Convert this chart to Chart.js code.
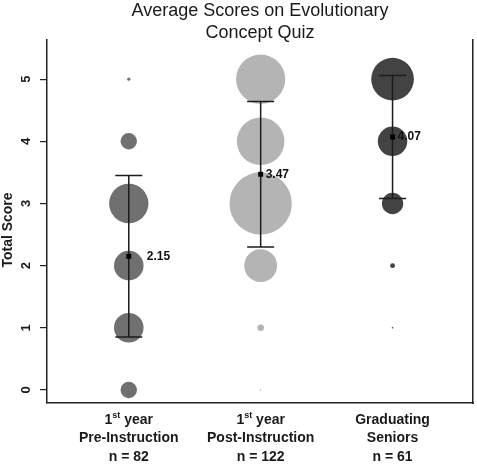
<!DOCTYPE html>
<html>
<head>
<meta charset="utf-8">
<script src="https://cdn.jsdelivr.net/npm/chart.js@4.4.0/dist/chart.umd.min.js"></script>
<style>
  html, body { margin: 0; padding: 0; background: #fff; }
  #wrap { width: 477px; height: 468px; }
</style>
</head>
<body>
<div id="wrap"><canvas id="quizChart"></canvas></div>
<script>
// data
const scores = [0, 1, 2, 3, 4, 5];
const preCounts = [10, 18, 18, 24, 10, 2];      // 1st year pre-instruction, n = 82
const postCounts = [1, 4, 20, 38, 29, 30];      // 1st year post-instruction, n = 122
const seniorCounts = [0, 1, 3, 13, 18, 26];     // graduating seniors, n = 61
const means = [2.15, 3.47, 4.07];
const sds = [1.30, 1.17, 0.99];
const yTicks = [0, 1, 2, 3, 4, 5];
const groupTop = ['1st year', '1st year', 'Graduating'];
const groupMid = ['Pre-Instruction', 'Post-Instruction', 'Seniors'];
const groupN = ['n = 82', 'n = 122', 'n = 61'];

const FONT = '"Liberation Sans", Arial, Helvetica, sans-serif';
const R_PER_STUDENT = 0.82; // bubble radius grows with the count

// big bubbles would otherwise push the plot area in from the right edge
if (Chart.BubbleController) {
  Chart.BubbleController.prototype.getMaxOverflow = function () { return false; };
}

function bubbles(counts, groupIdx) {
  return scores
    .map((s, i) => ({ x: groupIdx + 1, y: s, r: counts[i] * R_PER_STUDENT }))
    .filter(p => p.r > 0);
}

// error bars, mean markers and mean labels
const meanPlugin = {
  id: 'meanPlugin',
  afterDatasetsDraw(chart) {
    const { ctx, scales: { x, y } } = chart;
    const labelOffsets = [18, 5, 5];
    ctx.save();
    means.forEach((m, i) => {
      const px = x.getPixelForValue(i + 1);
      const top = y.getPixelForValue(m + sds[i]);
      const bot = y.getPixelForValue(m - sds[i]);
      const py = y.getPixelForValue(m);
      ctx.strokeStyle = '#1c1c1c';
      ctx.lineWidth = 1.5;
      ctx.beginPath();
      ctx.moveTo(px, top); ctx.lineTo(px, bot);
      ctx.moveTo(px - 13.5, top); ctx.lineTo(px + 13.5, top);
      ctx.moveTo(px - 13.5, bot); ctx.lineTo(px + 13.5, bot);
      ctx.stroke();
      ctx.fillStyle = '#000';
      ctx.fillRect(px - 2.5, py - 2.5, 5, 5);
      ctx.font = 'bold 12px ' + FONT;
      ctx.textAlign = 'left';
      ctx.textBaseline = 'middle';
      ctx.fillStyle = '#111';
      ctx.fillText(means[i].toFixed(2), px + labelOffsets[i], py);
    });
    ctx.restore();
  },
  afterDraw(chart) {
    const { ctx, chartArea, scales: { x, y } } = chart;
    ctx.save();
    ctx.fillStyle = '#1a1a1a';
    // title
    const cx = (chartArea.left + chartArea.right) / 2;
    ctx.font = '18px ' + FONT;
    ctx.textAlign = 'center';
    ctx.textBaseline = 'middle';
    ctx.fillText('Average Scores on Evolutionary', cx, 11);
    ctx.fillText('Concept Quiz', cx, 33);

    // y axis title and tick labels, rotated
    ctx.font = 'bold 14px ' + FONT;
    ctx.save();
    ctx.translate(8, 230);
    ctx.rotate(-Math.PI / 2);
    ctx.fillText('Total Score', 0, 0);
    ctx.restore();
    ctx.font = 'bold 13px ' + FONT;
    yTicks.forEach(v => {
      ctx.save();
      ctx.translate(26, y.getPixelForValue(v));
      ctx.rotate(-Math.PI / 2);
      ctx.fillText(String(v), 0, 0);
      ctx.restore();
    });

    // category labels under the x axis
    ctx.font = 'bold 14px ' + FONT;
    groupTop.forEach((t, i) => {
      const px = x.getPixelForValue(i + 1);
      const m = t.match(/^(\d+)(st|nd|rd|th)(.*)$/);
      if (m) {
        ctx.font = 'bold 14px ' + FONT;
        const wBase = ctx.measureText(m[1]).width;
        const wRest = ctx.measureText(m[3]).width;
        ctx.font = 'bold 9px ' + FONT;
        const wSup = ctx.measureText(m[2]).width;
        let left = px - (wBase + wSup + wRest) / 2;
        ctx.textAlign = 'left';
        ctx.font = 'bold 14px ' + FONT;
        ctx.fillText(m[1], left, 420);
        ctx.font = 'bold 9px ' + FONT;
        ctx.fillText(m[2], left + wBase, 416);
        ctx.font = 'bold 14px ' + FONT;
        ctx.fillText(m[3], left + wBase + wSup, 420);
      } else {
        ctx.textAlign = 'center';
        ctx.fillText(t, px, 420);
      }
      ctx.textAlign = 'center';
      ctx.fillText(groupMid[i], px, 438);
      ctx.fillText(groupN[i], px, 457);
    });
    ctx.restore();
  }
};

new Chart(document.getElementById('quizChart'), {
  type: 'bubble',
  data: {
    datasets: [
      { label: 'Pre', data: bubbles(preCounts, 0), backgroundColor: '#707070', borderWidth: 0 },
      { label: 'Post', data: bubbles(postCounts, 1), backgroundColor: '#b4b4b4', borderWidth: 0 },
      { label: 'Seniors', data: bubbles(seniorCounts, 2), backgroundColor: '#434343', borderWidth: 0 }
    ]
  },
  options: {
    responsive: true,
    maintainAspectRatio: false,
    animation: false,
    layout: { padding: { top: 40, left: 0, right: 0, bottom: 0 } },
    plugins: {
      legend: { display: false },
      tooltip: { enabled: false },
      title: { display: false }
    },
    scales: {
      x: {
        type: 'linear',
        min: 0.38,
        max: 3.61,
        grid: { display: false },
        ticks: { display: false },
        border: { display: true, color: '#222', width: 1.5 },
        afterFit(s) { s.height = 65; }
      },
      y: {
        min: -0.21,
        max: 5.63,
        afterBuildTicks(s) { s.ticks = yTicks.map(v => ({ value: v })); },
        ticks: { color: 'rgba(0,0,0,0)' },
        grid: { drawOnChartArea: false, drawTicks: true, tickLength: 7, color: '#222', lineWidth: 1.2 },
        border: { display: true, color: '#222', width: 1.5 },
        afterFit(s) { s.width = 47; }
      },
      y2: {
        position: 'right',
        min: -0.21,
        max: 5.63,
        grid: { display: false },
        ticks: { display: false },
        border: { display: true, color: '#222', width: 1.5 },
        afterFit(s) { s.width = 4; }
      }
    }
  },
  plugins: [meanPlugin]
});
</script>
</body>
</html>
